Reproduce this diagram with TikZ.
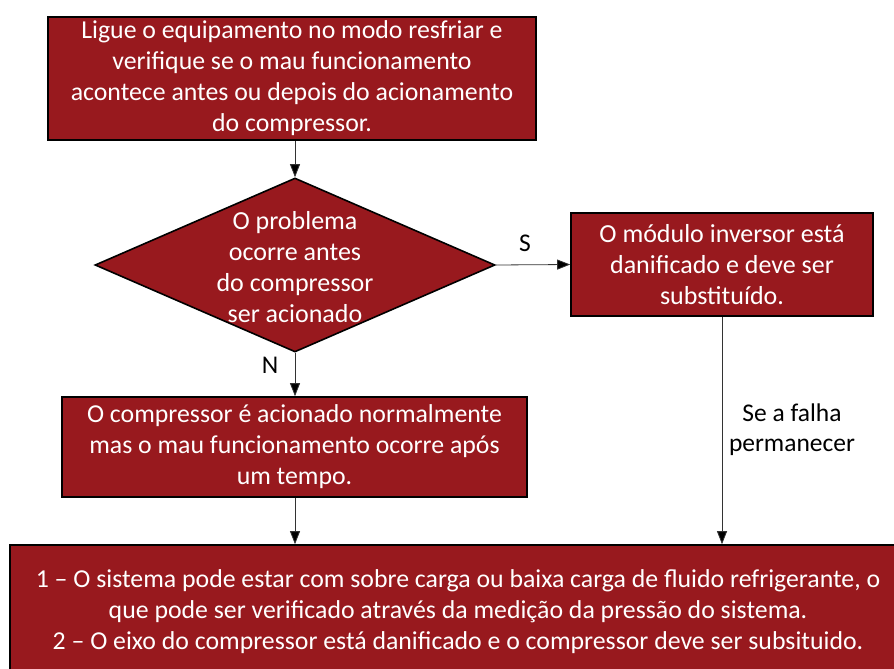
\documentclass[tikz,border=0pt]{standalone}
\usepackage{fontspec}
\setmainfont{Carlito}
\usetikzlibrary{arrows.meta,shapes.geometric}
\definecolor{boxred}{RGB}{152,25,30}
\begin{document}
\begin{tikzpicture}[x=1pt,y=-1pt,
  box/.style={draw=black,line width=1.6pt,fill=boxred,text=white,align=center,inner sep=0pt},
  boxfont/.style={font=\fontsize{25.8}{31}\selectfont},
  dia/.style={draw=black,line width=1.6pt,fill=boxred,diamond,inner sep=0pt},
  flow/.style={draw=black!80,line width=0.8pt,-{Triangle[length=13pt,width=10pt,fill=black]}},
  lbl/.style={font=\fontsize{25.5}{30}\selectfont,text=black,align=center},
  wtext/.style={text=white,align=center,font=\fontsize{26}{31}\selectfont}]
\useasboundingbox (0,0) rectangle (894,669);
\node[box,boxfont,minimum width=488pt,minimum height=123pt] (start) at (292,78.5)
  {Ligue o equipamento no modo resfriar e\\verifique se o mau funcionamento\\acontece antes ou depois do acionamento\\do compressor.};
\node[dia,minimum width=400pt,minimum height=174pt] (dec) at (295,265) {};
\node[wtext] (dectext) at (295,267) {O problema\\ocorre antes\\do compressor\\ser acionado};
\node[box,wtext,minimum width=302pt,minimum height=103pt] (inv) at (722,264.5)
  {O módulo inversor está\\danificado e deve ser\\substituído.};
\node[box,boxfont,minimum width=465pt,minimum height=100pt] (comp) at (294.5,447)
  {O compressor é acionado normalmente\\mas o mau funcionamento ocorre após\\um tempo.};
\node[box,boxfont,minimum width=896pt,minimum height=134pt] (final) at (458,612)
  {1 – O sistema pode estar com sobre carga ou baixa carga de fluido refrigerante, o\\que pode ser verificado através da medição da pressão do sistema.\\2 – O eixo do compressor está danificado e o compressor deve ser subsituido.};
\draw[flow] (dec.north |- start.south) -- (dec.north);
\draw[flow] (dec.east) -- (inv.west);
\draw[flow] (dec.south) -- (dec.south |- comp.north);
\draw[flow] (dec.south |- comp.south) -- (dec.south |- final.north);
\draw[flow] (inv.south) -- (inv.south |- final.north);
\node[lbl] (s) at (525,243) {S};
\node[lbl] (n) at (270,365) {N};
\node[lbl] (falha) at (792,430) {Se a falha\\permanecer};
\end{tikzpicture}
\end{document}
